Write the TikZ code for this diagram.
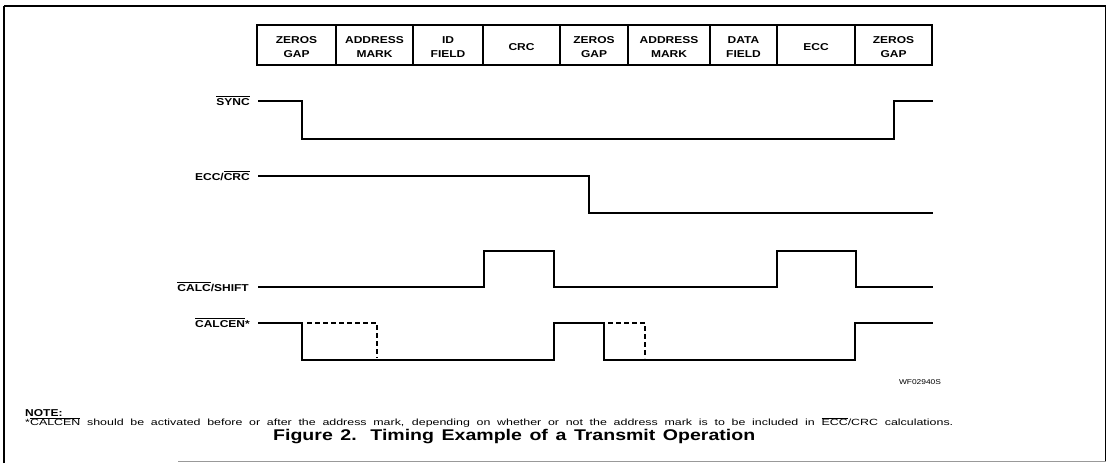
\documentclass[tikz,border=0pt]{standalone}
\usepackage{fontspec}
\setmainfont{Liberation Sans}
\newfontfamily\hv[FakeStretch=1.2]{Liberation Sans}
\newfontfamily\hvc[FakeStretch=1.26]{Liberation Sans}
\newfontfamily\hvn[FakeStretch=1.38]{Liberation Sans}
\newcommand{\ovl}[1]{$\overline{\hbox{#1}}$}

\begin{document}
\begin{tikzpicture}[x=1pt,y=-1pt,
    sig/.style={line width=2.2pt, line join=miter},
    dsig/.style={line width=2.2pt, dash pattern=on 5pt off 3pt},
    field/.style={align=center, font=\hv\fontsize{10}{14}\selectfont\bfseries, inner sep=0pt},
    lbl/.style={anchor=base east, font=\hv\fontsize{10}{11}\selectfont\bfseries, inner sep=0pt}]

  \useasboundingbox (0,0) rectangle (1107,464);

  % Frame of the figure
  \draw[line width=2.6pt] (4,463) -- (4,6);
  \draw[line width=1.6pt] (4,6) -- (1105.5,6) -- (1105.5,462);
  \draw[gray!80, line width=1pt] (178,461.5) -- (1105.5,461.5);

  % Fields of the record
  \foreach \xa/\xb/\Lb [count=\i] in {257/336/{ZEROS\\GAP}, 336/413/{ADDRESS\\MARK},
      413/483/{ID\\FIELD}, 483/560/{CRC}, 560/628/{ZEROS\\GAP}, 628/710/{ADDRESS\\MARK},
      710/777/{DATA\\FIELD}, 777/855/{ECC}, 855/932/{ZEROS\\GAP}}{
    \draw[line width=1.6pt] (\xa,25) rectangle (\xb,65);
    \node[field] (f\i) at ({(\xa+\xb)/2},47) {\Lb};
  }
  \draw[line width=2.4pt] (257,25) rectangle (932,65);

  % Signal names
  \node[lbl] (sync) at (250,105) {\ovl{SYNC}};
  \node[lbl] (ecc) at (250,180) {ECC/\ovl{CRC}};
  \node[lbl] (calc) at (249,291) {\ovl{CALC}/SHIFT};
  \node[lbl] (calcen) at (250,327) {\ovl{CALCEN}*};

  % Waveforms
  \draw[sig] (258,101) -- (302,101) -- (302,139) -- (894,139) -- (894,101) -- (933,101);
  \draw[sig] (258,176) -- (589,176) -- (589,213) -- (933,213);
  \draw[sig] (258,287) -- (484,287) -- (484,251) -- (554,251) -- (554,287)
    -- (777,287) -- (777,251) -- (856,251) -- (856,287) -- (933,287);
  \draw[sig] (258,323) -- (302,323) -- (302,360) -- (554,360) -- (554,323)
    -- (604,323) -- (604,360) -- (855,360) -- (855,323) -- (933,323);
  \draw[dsig] (307,323) -- (377,323) -- (377,358);
  \draw[dsig] (608,323) -- (645,323) -- (645,358);

  \node[font=\hv\fontsize{7}{8}\selectfont, inner sep=0pt] (wf) at (920,382) {WF02940S};

  % Note and caption
  \node[anchor=base west, font=\hv\fontsize{10}{11}\selectfont\bfseries, inner sep=0pt] (note) at (25,416) {NOTE:};
  \node[anchor=base west, font=\hvn\fontsize{9}{10}\selectfont, inner sep=0pt] (txt) at (25,425.5)
    {\makebox[928pt][s]{*\ovl{CALCEN} should be activated before or after the address mark, depending on whether or not the address mark is to be included in \ovl{ECC}/CRC calculations.}};
  \node[anchor=base west, font=\hvc\fontsize{15.5}{17}\selectfont\bfseries, inner sep=0pt] (cap) at (273,440.5)
    {\makebox[482pt][s]{Figure 2. Timing Example of a Transmit Operation}};

\end{tikzpicture}
\end{document}
